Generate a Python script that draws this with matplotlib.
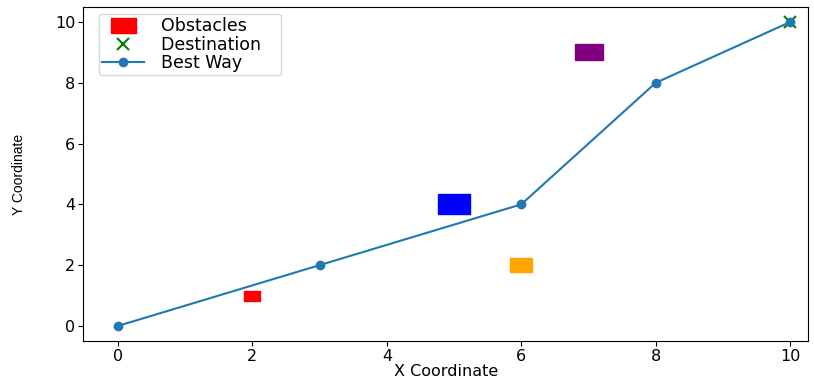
import matplotlib.pyplot as plt
from matplotlib.lines import Line2D

# Данные
obstacle_x = [2, 5, 6, 7]
obstacle_y = [1, 4, 2, 9]
obstacle_colors = ['red', 'blue', 'orange', 'purple']
obstacle_sizes = [11.5, 23, 16, 20]

path_x = [0, 3, 6, 8, 10]
path_y = [0, 2, 4, 8, 10]

dest_x = [10]
dest_y = [10]

# прямоугольный маркер (картинка растянута по горизонтали)
rect = [(-1, -0.6), (1, -0.6), (1, 0.6), (-1, 0.6), (-1, -0.6)]

fig = plt.figure(figsize=(8.14, 3.79), dpi=100)
ax = fig.add_axes([0.102, 0.10, 0.891, 0.882])

for x, y, c, s in zip(obstacle_x, obstacle_y, obstacle_colors, obstacle_sizes):
    ax.plot(x, y, marker=rect, color=c, markersize=s, linestyle='none')

ax.plot(path_x, path_y, marker='o', color='#1f77b4', linewidth=1.5,
        markersize=6, zorder=3)
ax.plot(dest_x, dest_y, marker='x', color='green', markersize=8,
        linestyle='none', markeredgewidth=1.5, zorder=2)

handles = [
    Line2D([], [], marker=rect, color='red', markersize=18, linestyle='none'),
    Line2D([], [], marker='x', color='green', markersize=8,
           markeredgewidth=1.5, linestyle='none'),
    Line2D([], [], marker='o', color='#1f77b4', markersize=6),
]
ax.legend(handles, ['Obstacles     ', 'Destination   ', 'Best Way      '],
          loc='upper left', fontsize=12.5, handlelength=2.4,
          handletextpad=1.0, borderpad=0.2, labelspacing=0.02,
          borderaxespad=0.4, bbox_to_anchor=(0.012, 1.0))

ax.set_xlim(-0.52, 10.27)
ax.set_ylim(-0.5, 10.5)
ax.set_xticks([0, 2, 4, 6, 8, 10])
ax.set_yticks([0, 2, 4, 6, 8, 10])
ax.tick_params(labelsize=11.5, pad=2)
ax.set_xlabel('X Coordinate', fontsize=11.5, labelpad=0)
ax.set_ylabel('Y Coordinate', fontsize=10, fontfamily='Liberation Sans',
              labelpad=21)

fig.savefig('out.png', dpi=100)
